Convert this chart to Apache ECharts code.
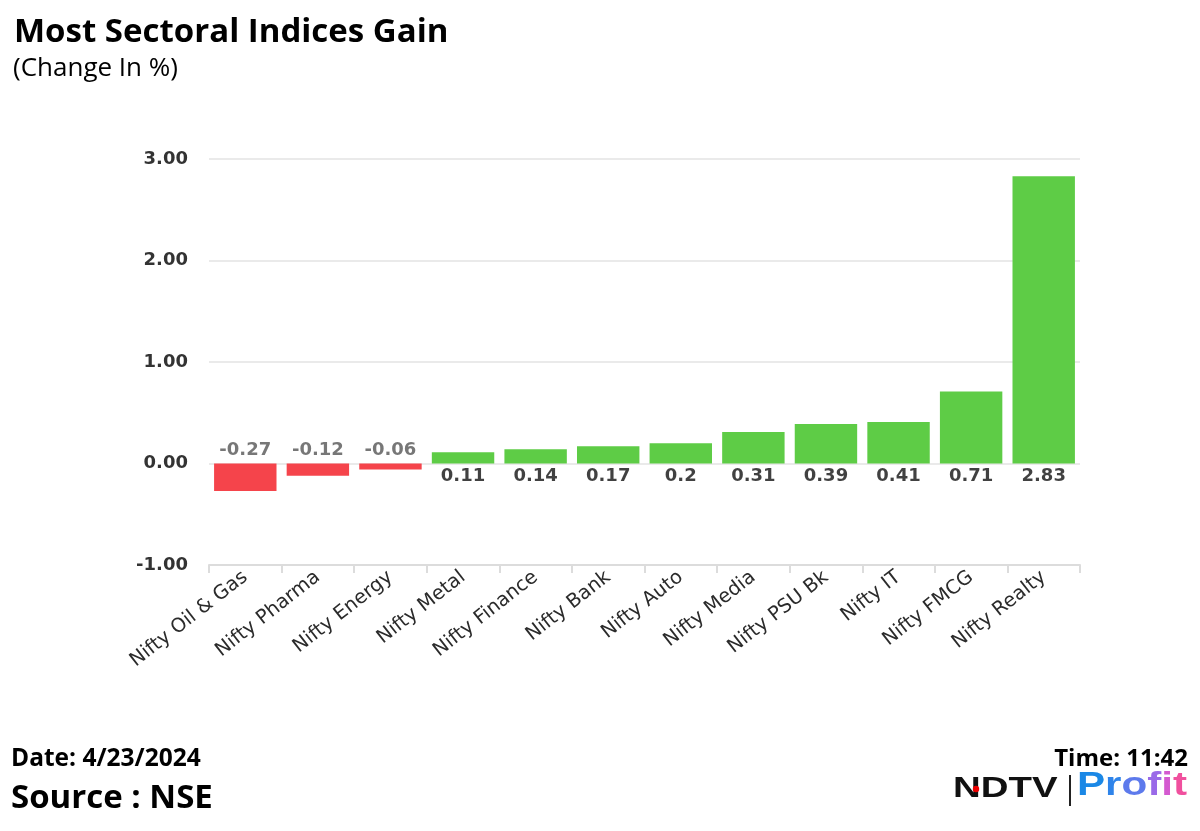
<!DOCTYPE html>
<html>
<head>
<meta charset="utf-8">
<script src="https://cdn.jsdelivr.net/npm/echarts@6/dist/echarts.min.js"></script>
<style>html,body{margin:0;padding:0;background:#fff;}#c{width:1200px;height:831px;}</style>
</head>
<body>
<div id="c"></div>
<script>
const categories = ['Nifty Oil & Gas','Nifty Pharma','Nifty Energy','Nifty Metal','Nifty Finance','Nifty Bank','Nifty Auto','Nifty Media','Nifty PSU Bk','Nifty IT','Nifty FMCG','Nifty Realty'];
const values = [-0.27,-0.12,-0.06,0.11,0.14,0.17,0.2,0.31,0.39,0.41,0.71,2.83];
const yTicks = [-1,0,1,2,3];

const RED = '#F5444B', GREEN = '#5ECC46';
const OS = '"Open Sans", "Noto Sans", sans-serif';
const AR = '"Liberation Sans", Arial, sans-serif';
const DV = '"DejaVu Sans", sans-serif';
const profitColors = ['#1b88e6','#2f84ea','#5d7aec','#9a6ae8','#d45ad0','#f0509e'];
const profitRich = {};
'Profit'.split('').forEach((ch,i)=>{profitRich['p'+i]={fill:profitColors[i],fontFamily:AR,fontWeight:'bold',fontSize:34};});

const chart = echarts.init(document.getElementById('c'));
chart.setOption({
  animation:false,
  backgroundColor:'#fff',
  grid:{left:209,right:120,top:159,bottom:266},
  xAxis:{
    type:'category', data:categories,
    axisLine:{onZero:false,lineStyle:{color:'#dcdcdc',width:2}},
    axisTick:{show:true,length:8,lineStyle:{color:'#dcdcdc',width:2}},
    axisLabel:{rotate:38,interval:0,fontFamily:DV,fontSize:19.5,color:'#2b2b2b',margin:10}
  },
  yAxis:{
    type:'value', min:yTicks[0], max:yTicks[yTicks.length-1], interval:1,
    axisLine:{show:false}, axisTick:{show:false},
    splitLine:{lineStyle:{color:'#e3e3e3',width:1.5}},
    axisLabel:{formatter:v=>v.toFixed(2),fontFamily:DV,fontWeight:'bold',fontSize:18,color:'#333',margin:21}
  },
  series:[
    {
      type:'bar', barCategoryGap:'14%',
      data:values.map(v=>({value:v,itemStyle:{color:v<0?RED:GREEN}})),
      label:{show:false}
    },
    {
      type:'scatter', symbolSize:0, silent:true, z:5,
      data:values.map(v=>({value:0,label:{position:v<0?'top':'bottom',distance:4,color:v<0?'#555':'#111'}})),
      label:{
        show:true,
        formatter:p=>String(values[p.dataIndex]),
        fontFamily:DV,fontWeight:'bold',fontSize:18
      }
    }
  ],
  graphic:[
    {type:'text',left:14,top:16,style:{text:'Most Sectoral Indices Gain',fontFamily:OS,fontWeight:'bold',fontSize:33,fill:'#000'}},
    {type:'text',left:13,top:56,style:{text:'(Change In %)',fontFamily:OS,fontSize:26,fill:'#000'}},
    {type:'text',left:11,top:747,style:{text:'Date: 4/23/2024',fontFamily:OS,fontWeight:'bold',fontSize:24.5,fill:'#000'}},
    {type:'text',left:11,top:782,style:{text:'Source : NSE',fontFamily:OS,fontWeight:'bold',fontSize:33,fill:'#000'}},
    {type:'text',right:12,top:747,style:{text:'Time: 11:42',fontFamily:OS,fontWeight:'bold',fontSize:24,fill:'#000'}},
    {type:'text',x:953,y:774,scaleX:1.28,style:{text:'NDTV',fontFamily:AR,fontWeight:'bold',fontSize:30,fill:'#111'}},
    {type:'circle',shape:{cx:976,cy:789,r:3.2},style:{fill:'#e00'}},
    {type:'rect',shape:{x:1069,y:775,width:2,height:31},style:{fill:'#222'}},
    {type:'text',x:1077,y:769,scaleX:1.24,style:{text:'Profit'.split('').map((ch,i)=>'{p'+i+'|'+ch+'}').join(''),rich:profitRich,fontSize:34}}
  ]
});
</script>
</body>
</html>
